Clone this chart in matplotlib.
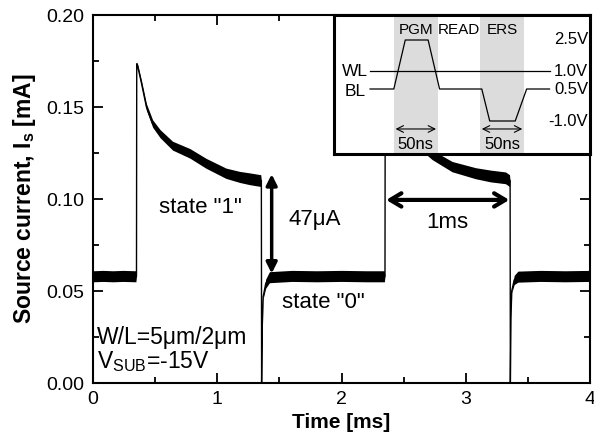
import matplotlib
matplotlib.use("Agg")
import matplotlib.pyplot as plt
from matplotlib.ticker import MultipleLocator, FormatStrFormatter
import matplotlib.transforms as mtransforms
import numpy as np

plt.rcParams['font.family'] = ['Liberation Sans', 'DejaVu Sans']
plt.rcParams['mathtext.fontset'] = 'custom'
plt.rcParams['mathtext.rm'] = 'Liberation Sans'
plt.rcParams['mathtext.it'] = 'Liberation Sans'
plt.rcParams['mathtext.bf'] = 'Liberation Sans:bold'

# ---- main trace data (time in ms, source current in mA) ----
trace_t = [0.00, 0.08, 0.16, 0.24, 0.345,
           0.350, 0.352, 0.36, 0.39, 0.43, 0.48, 0.54, 0.64, 0.78, 0.91, 1.07, 1.18, 1.26, 1.350,
           1.355, 1.357, 1.362, 1.37, 1.39, 1.42, 1.60, 1.80, 2.00, 2.20, 2.345,
           2.350, 2.352, 2.36, 2.39, 2.43, 2.48, 2.54, 2.64, 2.73, 2.89, 3.08, 3.20, 3.32, 3.352,
           3.357, 3.359, 3.364, 3.37, 3.39, 3.42, 3.60, 3.80, 4.00]
trace_i = [0.0580, 0.0582, 0.0580, 0.0582, 0.0580,
           0.0580, 0.1735, 0.1720, 0.1630, 0.1500, 0.1410, 0.1355, 0.1290, 0.1248, 0.1194, 0.1140, 0.1120, 0.1110, 0.1100,
           0.1100, 0.0000, 0.0300, 0.0470, 0.0540, 0.0575, 0.0582, 0.0580, 0.0582, 0.0580, 0.0580,
           0.0580, 0.1735, 0.1720, 0.1630, 0.1500, 0.1410, 0.1355, 0.1290, 0.1240, 0.1176, 0.1140, 0.1125, 0.1115, 0.1100,
           0.1100, 0.0000, 0.0350, 0.0500, 0.0560, 0.0578, 0.0582, 0.0580, 0.0582]
trace_noise = [0.0030, 0.0030, 0.0030, 0.0030, 0.0030,
               0.0000, 0.0010, 0.0012, 0.0015, 0.0018, 0.0020, 0.0022, 0.0024, 0.0026, 0.0027, 0.0028, 0.0030, 0.0032, 0.0032,
               0.0000, 0.0000, 0.0000, 0.0010, 0.0025, 0.0030, 0.0030, 0.0030, 0.0030, 0.0030, 0.0030,
               0.0000, 0.0010, 0.0012, 0.0015, 0.0018, 0.0020, 0.0022, 0.0024, 0.0026, 0.0028, 0.0030, 0.0032, 0.0032, 0.0032,
               0.0000, 0.0000, 0.0000, 0.0010, 0.0025, 0.0030, 0.0030, 0.0030, 0.0030]

x_ticks = [0, 1, 2, 3, 4]
y_ticks = [0.00, 0.05, 0.10, 0.15, 0.20]

# ---- inset schematic data (time in ns, voltage in V) ----
wl_t = [41, 245]
wl_v = [1.0, 1.0]
bl_t = [41, 68, 81, 107, 120, 168, 177, 206, 219, 245]
bl_v = [0.5, 0.5, 2.5, 2.5, 0.5, 0.5, -1.0, -1.0, 0.5, 0.5]
phase_names = ["PGM", "READ", "ERS"]
phase_centers = [93, 142, 191]
pulse_windows = [(68, 118), (166, 216)]
level_labels = ["2.5V", "1.0V", "0.5V", "-1.0V"]
level_values = [2.5, 1.0, 0.5, -1.0]

# schematic (non-linear) voltage scale of the inset
_sv = np.array([-2.4, -1.0, 0.5, 1.0, 2.5, 3.6])
_sp = np.array([0.0, 33.0, 65.0, 83.0, 114.0, 139.0])
def _fwd(v):
    return np.interp(v, _sv, _sp)
def _inv(p):
    return np.interp(p, _sp, _sv)

W, H = 594, 442
fig = plt.figure(figsize=(W / 100, H / 100), dpi=100)
ax = fig.add_axes([93 / W, (H - 383) / H, (590 - 93) / W, (383 - 15) / H])

t = np.array(trace_t)
i = np.array(trace_i)
n = np.array(trace_noise)
ax.fill_between(t, i - n, i + n, color='black', lw=0, zorder=2)
ax.plot(t, i, color='black', lw=1.0, zorder=3)

ax.set_xlim(0, 4)
ax.set_ylim(0, 0.20)
ax.set_xticks(x_ticks)
ax.set_yticks(y_ticks)
ax.xaxis.set_minor_locator(MultipleLocator(0.5))
ax.yaxis.set_minor_locator(MultipleLocator(0.025))
ax.yaxis.set_major_formatter(FormatStrFormatter('%.2f'))
ax.tick_params(which='both', direction='in', top=True, right=True, labelsize=14, width=1.3, pad=6)
ax.tick_params(which='major', length=7)
ax.tick_params(which='minor', length=4.5)
for s in ax.spines.values():
    s.set_linewidth(1.5)

ax.set_xlabel('Time [ms]', fontsize=15, fontweight='bold', labelpad=3)
ax.set_ylabel(r'Source current, I$_\mathregular{s}$ [mA]', fontsize=16.5, fontweight='bold', labelpad=6)

# annotations
ax.text(0.864, 0.0954, 'state "1"', fontsize=16, ha='center', va='center')
ax.text(1.855, 0.044, 'state "0"', fontsize=16, ha='center', va='center')
ax.text(1.783, 0.0886, '47μA', fontsize=16, ha='center', va='center')
ax.text(2.851, 0.0875, '1ms', fontsize=16, ha='center', va='center')
ax.text(0.035, 0.0245, 'W/L=5μm/2μm', fontsize=16.5, ha='left', va='center')
ax.text(0.035, 0.0115, r'V$_\mathregular{SUB}$=-15V', fontsize=16.5, ha='left', va='center')

ax.annotate('', xy=(1.438, 0.0595), xytext=(1.438, 0.1135),
            arrowprops=dict(arrowstyle='<|-|>', color='black', lw=2.5,
                            mutation_scale=16, shrinkA=0, shrinkB=0), zorder=5)
ax.annotate('', xy=(2.36, 0.0995), xytext=(3.35, 0.0995),
            arrowprops=dict(arrowstyle='<->,head_length=0.5,head_width=0.3', color='black', lw=3,
                            mutation_scale=16, shrinkA=0, shrinkB=0), zorder=5)

# ---- inset ----
ins = fig.add_axes([334 / W, (H - 154) / H, (590 - 334) / W, (154 - 15) / H])
ins.set_yscale('function', functions=(_fwd, _inv))
ins.set_xlim(0, 291)
ins.set_ylim(-2.4, 3.6)
ins.set_xticks([])
ins.set_yticks([])
ins.minorticks_off()
ins.set_facecolor('white')
for s in ins.spines.values():
    s.set_linewidth(2.2)
for (a, b) in pulse_windows:
    ins.axvspan(a, b, color='#dcdcdc', lw=0, zorder=1)
ins.plot(wl_t, wl_v, color='black', lw=0.9, zorder=3)
ins.plot(bl_t, bl_v, color='black', lw=0.9, zorder=3)
ins.text(38, 1.0, 'WL', fontsize=12.5, ha='right', va='center')
ins.text(36, 0.4, 'BL', fontsize=12.5, ha='right', va='center')
for lab, v in zip(level_labels, level_values):
    ins.text(289, v, lab, fontsize=12, ha='right', va='center')
blend = mtransforms.blended_transform_factory(ins.transData, ins.transAxes)
for name, c in zip(phase_names, phase_centers):
    ins.text(c, 0.895, name, fontsize=11, ha='center', va='center', transform=blend)
for (a, b) in pulse_windows:
    ins.annotate('', xy=(a + 2, 0.18), xytext=(b - 2, 0.18), xycoords=blend, textcoords=blend,
                 arrowprops=dict(arrowstyle='<->', color='black', lw=0.8,
                                 mutation_scale=12, shrinkA=0, shrinkB=0))
    ins.text((a + b) / 2, 0.065, '50ns', fontsize=12, ha='center', va='center', transform=blend)

fig.savefig('out.png', dpi=100)
